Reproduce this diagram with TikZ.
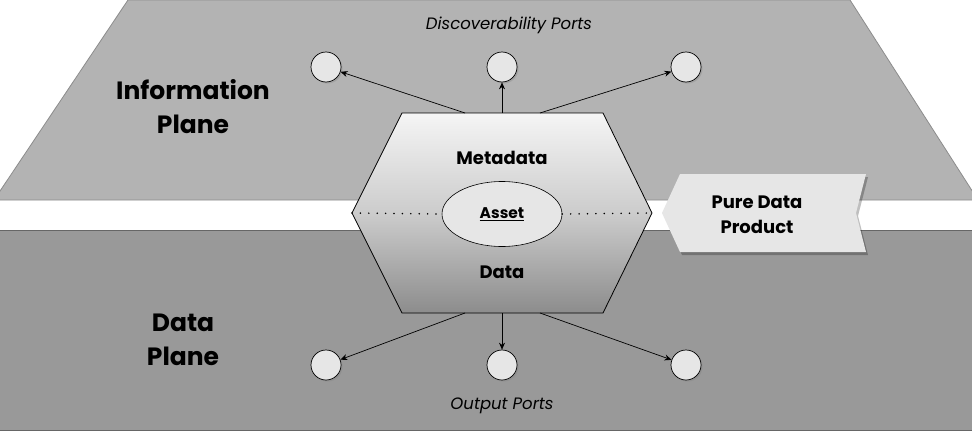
\documentclass[tikz,border=0pt]{standalone}
\usepackage{fontspec}
\setmainfont{Poppins}
\usetikzlibrary{shadows,arrows.meta,shapes.geometric}
\definecolor{topgray}{HTML}{B3B3B3}
\definecolor{botgray}{HTML}{999999}
\definecolor{lightfill}{HTML}{E6E6E6}
\tikzset{
  port/.style={circle,draw=black,fill=lightfill,minimum size=30pt,inner sep=0pt,line width=0.7pt,
    drop shadow={shadow xshift=1.5pt,shadow yshift=-1.5pt,opacity=0.35}},
  conn/.style={-{Stealth[length=7pt,width=6pt]},line width=0.7pt},
  planelabel/.style={font=\bfseries\fontsize{25}{34}\selectfont,align=center},
  portlabel/.style={font=\itshape\fontsize{16.5}{18}\selectfont},
  hexlabel/.style={font=\bfseries\fontsize{18}{20}\selectfont},
  dotline/.style={line width=1.7pt,line cap=round,dash pattern=on 0pt off 8.4pt}
}
\begin{document}
\begin{tikzpicture}[x=1pt,y=-1pt]
\useasboundingbox (0,0) rectangle (972,431);
% planes
\fill[white] (0,0) rectangle (972,431);
\draw[fill=topgray,draw=gray!90,line width=0.8pt] (128,0) -- (850,0) -- (978,200) -- (-6,200) -- cycle;
\draw[fill=botgray,draw=gray!80!black,line width=0.8pt] (-2,230) rectangle (974,430);
% texts
\node[planelabel] (info) at (193,107) {Information\\Plane};
\node[planelabel] (dplane) at (183,340) {Data\\Plane};
\node[portlabel] (disc) at (509,25) {Discoverability Ports};
\node[portlabel] (outp) at (502,406) {Output Ports};
% hexagon
\coordinate (hl) at (352,213);
\coordinate (hr) at (652,213);
\shade[top color=black!4,bottom color=black!45,middle color=black!20]
  (402,113) -- (603,113) -- (652,213) -- (603,313) -- (402,313) -- (352,213) -- cycle;
\draw[line width=0.8pt] (402,113) -- (603,113) -- (652,213) -- (603,313) -- (402,313) -- (352,213) -- cycle;
\node[draw=black,fill=lightfill,ellipse,minimum width=120pt,minimum height=65pt,inner sep=0pt,line width=0.6pt] (asset) at (502,214) {};
\node[font=\bfseries\fontsize{15.5}{18}\selectfont] at (asset) {\underline{Asset}};
\draw[dotline] (hl) -- (asset.west);
\draw[dotline] (asset.east) -- (hr);
\node[hexlabel] (meta) at (502,158) {Metadata};
\node[hexlabel] (data) at (502,272) {Data};
\coordinate (t1) at (465,113);
\coordinate (t2) at (502,113);
\coordinate (t3) at (540,113);
\coordinate (b1) at (465,313);
\coordinate (b2) at (502,313);
\coordinate (b3) at (540,313);
% ports
\node[port] (dp1) at (326,67) {};
\node[port] (dp2) at (502,67) {};
\node[port] (dp3) at (686,67) {};
\node[port] (op1) at (326,365) {};
\node[port] (op2) at (502,365) {};
\node[port] (op3) at (686,365) {};
\draw[conn] (t1) -- (dp1);
\draw[conn] (t2) -- (dp2);
\draw[conn] (t3) -- (dp3);
\draw[conn] (b1) -- (op1);
\draw[conn] (b2) -- (op2);
\draw[conn] (b3) -- (op3);
% pure data product
\fill[black,opacity=0.25] (664,215) -- (682,177) -- (868,177) -- (858,216) -- (868,255) -- (682,255) -- cycle;
\fill[lightfill] (662,213) -- (680,174) -- (866,174) -- (856,213) -- (866,252) -- (680,252) -- cycle;
\node[align=center,font=\bfseries\fontsize{18}{25}\selectfont] (pdp) at (757,215) {Pure Data\\Product};
\end{tikzpicture}
\end{document}
